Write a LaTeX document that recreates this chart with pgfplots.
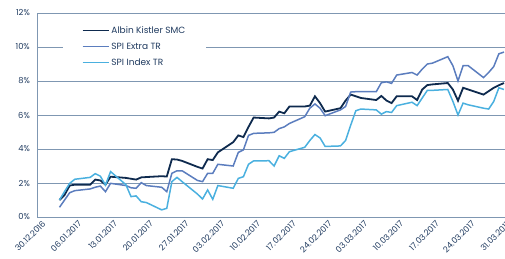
\documentclass[border=0pt]{standalone}
\usepackage{fontspec}
\setmainfont{Poppins}
\usepackage{pgfplots}
\pgfplotsset{compat=1.18}
\definecolor{albin}{HTML}{0E2A4E}
\definecolor{extra}{HTML}{5B7DBE}
\definecolor{index}{HTML}{4AB0DF}
\definecolor{gridc}{HTML}{7F97B2}
\definecolor{txt}{HTML}{1F3A5F}
\begin{document}
\begin{tikzpicture}
\begin{axis}[
  name=ax, at={(0,0)}, anchor=south west,
  scale only axis, width=468pt, height=204pt,
  xmin=-0.4, xmax=91.2, ymin=0, ymax=12,
  axis x line*=bottom, axis y line*=left,
  axis line style={gridc, line width=0.8pt},
  ytick={0,2,4,6,8,10,12},
  yticklabels={0\%,2\%,4\%,6\%,8\%,10\%,12\%},
  ymajorgrids, grid style={gridc, line width=0.8pt},
  xtick={0,7,14,21,28,35,42,49,56,63,70,77,84,91},
  xticklabels={30.12.2016,06.01.2017,13.01.2017,20.01.2017,27.01.2017,03.02.2017,10.02.2017,17.02.2017,24.02.2017,03.03.2017,10.03.2017,17.03.2017,24.03.2017,31.03.2017},
  x tick label style={rotate=45, anchor=north east, inner sep=1pt, yshift=-3pt, xshift=1pt},
  y tick label style={inner sep=1pt, xshift=-6pt},
  major tick length=0pt,
  tick label style={font=\fontsize{8.3}{10}\selectfont, text=txt},
  legend style={at={(rel axis cs:0.055,0.965)}, anchor=north west, draw=none, fill=white,
    inner xsep=19pt, inner ysep=4pt, font=\fontsize{9}{11}\selectfont, text=txt, row sep=4pt},
  legend cell align=left,
  legend image code/.code={\draw[line width=1.5pt,#1] (0pt,0pt) -- (26pt,0pt);},
  clip=false,
]
\addplot[albin, line width=1.8pt] coordinates {
(4,1.0)(5,1.3)(6,1.85)(7,1.9)(10,1.9)(11,2.2)(12,2.15)(13,1.9)(14,2.37)
(17,2.3)(18,2.25)(19,2.2)(20,2.33)(21,2.35)(24,2.4)(25,2.38)(26,3.4)(27,3.38)(28,3.3)
(31,2.95)(32,2.85)(33,3.4)(34,3.35)(35,3.8)(38,4.4)(39,4.8)(40,4.7)(41,5.3)(42,5.85)
(45,5.8)(46,5.85)(47,6.2)(48,6.1)(49,6.5)(52,6.5)(53,6.55)(54,7.1)(55,6.7)(56,6.2)
(59,6.4)(60,6.85)(61,7.2)(62,7.1)(63,7.0)(66,6.88)(67,7.12)(68,6.85)(69,6.7)(70,7.1)
(73,7.1)(74,6.88)(75,7.5)(76,7.76)(77,7.8)(80,7.88)(81,7.5)(82,6.84)(83,7.6)(84,7.5)
(87,7.2)(88,7.4)(89,7.6)(90,7.75)(91,7.88)
};
\addlegendentry{Albin Kistler SMC}
\addplot[extra, line width=1.5pt] coordinates {
(4,0.57)(5,1.0)(6,1.43)(7,1.55)(10,1.65)(11,1.75)(12,1.82)(13,1.49)(14,1.98)
(17,1.85)(18,1.72)(19,1.69)(20,2.02)(21,1.85)(24,1.75)(25,1.49)(26,2.57)(27,2.72)(28,2.72)
(31,2.15)(32,2.08)(33,2.57)(34,2.57)(35,3.1)(38,3.0)(39,3.8)(40,3.95)(41,4.8)(42,4.92)
(45,4.95)(46,4.98)(47,5.2)(48,5.3)(49,5.5)(52,5.9)(53,6.4)(54,6.65)(55,6.4)(56,5.96)
(59,6.3)(60,6.5)(61,7.35)(62,7.37)(63,7.37)(66,7.37)(67,7.9)(68,7.95)(69,7.86)(70,8.35)
(73,8.5)(74,8.35)(75,8.7)(76,9.0)(77,9.05)(80,9.43)(81,8.9)(82,8.0)(83,8.9)(84,8.9)
(87,8.2)(88,8.5)(89,8.85)(90,9.6)(91,9.7)
};
\addlegendentry{SPI Extra TR}
\addplot[index, line width=1.5pt] coordinates {
(4,1.0)(5,1.5)(6,1.98)(7,2.22)(10,2.33)(11,2.55)(12,2.4)(13,1.88)(14,2.67)
(17,1.9)(18,1.2)(19,1.24)(20,0.9)(21,0.85)(24,0.42)(25,0.51)(26,2.08)(27,2.33)(28,2.08)
(31,1.35)(32,1.06)(33,1.59)(34,1.04)(35,1.85)(38,1.69)(39,2.27)(40,2.37)(41,3.1)(42,3.3)
(45,3.31)(46,3.0)(47,3.6)(48,3.45)(49,3.84)(52,4.1)(53,4.5)(54,4.85)(55,4.65)(56,4.15)
(59,4.18)(60,4.5)(61,5.4)(62,6.25)(63,6.35)(66,6.3)(67,6.05)(68,6.2)(69,6.15)(70,6.55)
(73,6.75)(74,6.55)(75,7.0)(76,7.45)(77,7.45)(80,7.5)(81,6.8)(82,6.0)(83,6.7)(84,6.6)
(87,6.4)(88,6.35)(89,6.8)(90,7.6)(91,7.5)
};
\addlegendentry{SPI Index TR}
\end{axis}
\pgfresetboundingbox
\path ([shift={(-37pt,-42pt)}]ax.south west) rectangle ([shift={(0pt,13pt)}]ax.north east);
\end{tikzpicture}
\end{document}
